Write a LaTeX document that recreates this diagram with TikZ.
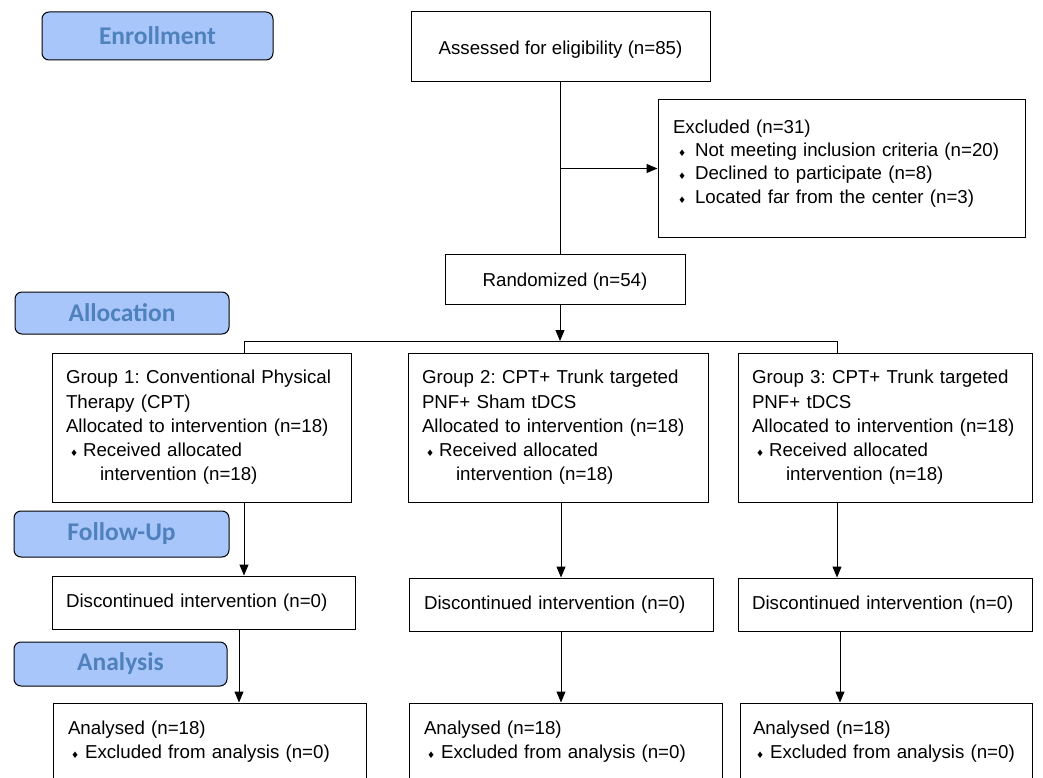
\documentclass[tikz,border=0pt]{standalone}
\usepackage{fontspec}
\setmainfont{Liberation Sans}
\newfontfamily\stagefont{Carlito}
\newfontfamily\symbolfont{DejaVu Sans}
\definecolor{StageFill}{RGB}{169,198,250}
\definecolor{StageText}{RGB}{79,129,189}
\usetikzlibrary{arrows.meta}
\newcommand{\diam}{{\symbolfont\fontsize{9}{9}\selectfont ♦}}
\frenchspacing
\tikzset{
    stage/.style={
        draw, line width=1pt, rounded corners=7pt, fill=StageFill,
        text=StageText, inner sep=0pt,
        font=\stagefont\bfseries\fontsize{25.5}{28}\selectfont
    },
    flowbox/.style={
        draw, line width=1pt, inner xsep=0pt, inner ysep=0pt,
        align=left, font=\fontsize{18.7}{24.3}\selectfont
    },
    flowarrow/.style={-{Triangle[length=11pt, width=9pt]}, line width=1pt},
    flowline/.style={line width=1pt}
}

\begin{document}
\begin{tikzpicture}[x=1pt, y=-1pt]

\clip (0,0) rectangle (1043,778);

% Etiquetas de las etapas.
\node[stage, minimum width=231, minimum height=48] (enroll) at (157.5,36) {Enrollment};
\node[stage, minimum width=214, minimum height=42] (alloc) at (122,313) {Allocation};
\node[stage, minimum width=215, minimum height=46] (follow) at (121.5,534) {Follow-Up};
\node[stage, minimum width=213, minimum height=44] (analysis) at (120.5,664) {Analysis};

% Inclusion y aleatorizacion.
\node[flowbox, align=center, minimum width=299, minimum height=70,
      text height=15pt, text depth=0pt] (assess) at (560.5,47)
    {Assessed for eligibility (n=85)};
\node[flowbox, minimum width=367, minimum height=137, text width=337,
      font=\fontsize{18.7}{23.3}\selectfont] (excl) at (841.5,168.5)
    {Excluded (n=31)\\
     \hspace*{5pt}\diam\hspace*{9pt}Not meeting inclusion criteria (n=20)\\
     \hspace*{5pt}\diam\hspace*{9pt}Declined to participate (n=8)\\
     \hspace*{5pt}\diam\hspace*{9pt}Located far from the center (n=3)\\[-16pt]\strut};
\node[flowbox, align=center, minimum width=240, minimum height=50,
      text height=15pt, text depth=0pt] (rand) at (565,279)
    {Randomized (n=54)};

% Grupos asignados.
\node[flowbox, minimum width=299, minimum height=149, text width=271] (g1) at (201.5,427.5)
    {Group 1: Conventional Physical\\ Therapy (CPT)\\ Allocated to intervention (n=18)\\
     \hspace*{4pt}\diam\hspace*{5pt}Received allocated\\ \hspace*{34pt}intervention (n=18)};
\node[flowbox, minimum width=300, minimum height=149, text width=272] (g2) at (558,427.5)
    {Group 2: CPT+ Trunk targeted\\ PNF+ Sham tDCS\\ Allocated to intervention (n=18)\\
     \hspace*{4pt}\diam\hspace*{5pt}Received allocated\\ \hspace*{34pt}intervention (n=18)};
\node[flowbox, minimum width=294, minimum height=149, text width=266] (g3) at (885,427.5)
    {Group 3: CPT+ Trunk targeted\\ PNF+ tDCS\\ Allocated to intervention (n=18)\\
     \hspace*{4pt}\diam\hspace*{5pt}Received allocated\\ \hspace*{34pt}intervention (n=18)};

% Seguimiento.
\node[flowbox, minimum width=303, minimum height=53, text width=275] (d1) at (203.5,602.5)
    {Discontinued intervention (n=0)};
\node[flowbox, minimum width=304, minimum height=53, text width=274] (d2) at (561,604.5)
    {Discontinued intervention (n=0)};
\node[flowbox, minimum width=294, minimum height=53, text width=266] (d3) at (885,604.5)
    {Discontinued intervention (n=0)};

% Analisis.
\node[flowbox, minimum width=313, minimum height=78, text width=283] (a1) at (209.5,742)
    {Analysed (n=18)\\ \hspace*{3pt}\diam\hspace*{6pt}Excluded from analysis (n=0)};
\node[flowbox, minimum width=313, minimum height=78, text width=283] (a2) at (565.5,742)
    {Analysed (n=18)\\ \hspace*{3pt}\diam\hspace*{6pt}Excluded from analysis (n=0)};
\node[flowbox, minimum width=292, minimum height=78, text width=266] (a3) at (886,742)
    {Analysed (n=18)\\ \hspace*{3pt}\diam\hspace*{6pt}Excluded from analysis (n=0)};

% Puntos de las ramas.
\coordinate (split) at (560,341);
\coordinate (splitL) at (244,341);
\coordinate (splitR) at (837,341);
\coordinate (colA) at (239,0);
\coordinate (colC) at (840,0);

% Conectores.
\draw[flowline] (assess.south -| split) -- (rand.north -| split);
\draw[flowarrow] (excl.west -| split) -- (excl.west);
\draw[flowarrow] (rand.south -| split) -- (split);
\draw[flowline] (g1.north -| splitL) -- (splitL) -- (splitR) -- (g3.north -| splitR);

\draw[flowarrow] (g1.south -| splitL) -- (d1.north -| splitL);
\draw[flowarrow] (g2.south -| d2.north) -- (d2.north);
\draw[flowarrow] (g3.south -| splitR) -- (d3.north -| splitR);

\draw[flowarrow] (d1.south -| colA) -- (a1.north -| colA);
\draw[flowarrow] (d2.south) -- (d2.south |- a2.north);
\draw[flowarrow] (d3.south -| colC) -- (a3.north -| colC);

\end{tikzpicture}
\end{document}
